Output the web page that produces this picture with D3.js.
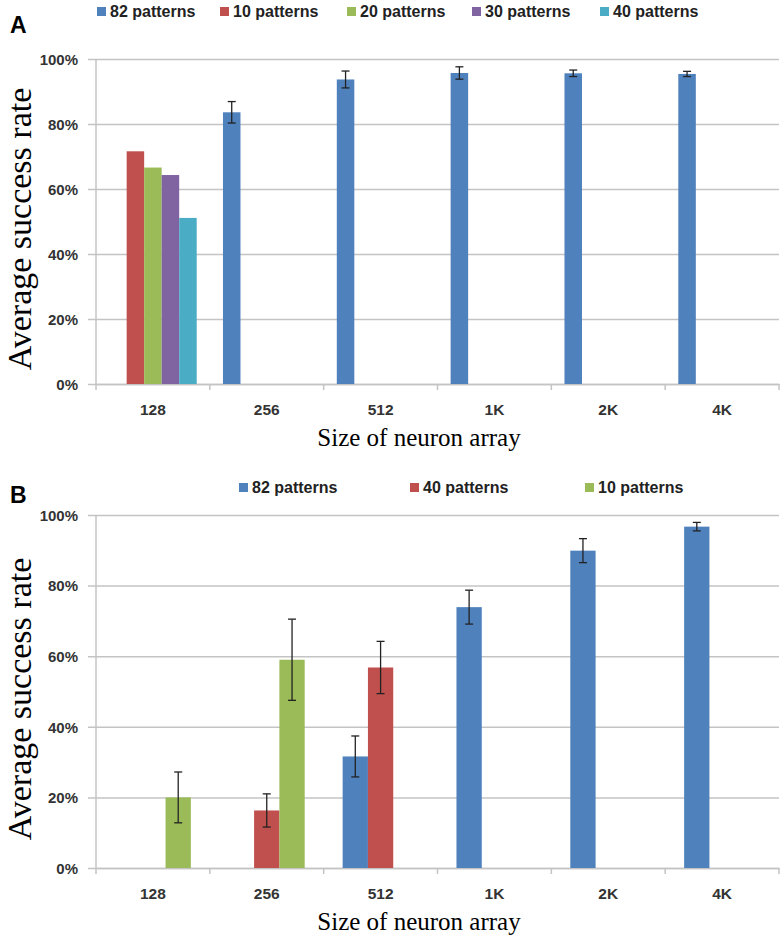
<!DOCTYPE html>
<html>
<head>
<meta charset="utf-8">
<script src="https://cdn.jsdelivr.net/npm/d3@7"></script>
<style>
  body { margin: 0; background: #fff; }
  svg { display: block; }
</style>
</head>
<body>
<svg id="chart" width="784" height="942"></svg>
<script>
// ---- data ----
const categories = ["128", "256", "512", "1K", "2K", "4K"];
const yTicks = [0, 20, 40, 60, 80, 100];

// Panel A
const seriesA = ["82 patterns", "10 patterns", "20 patterns", "30 patterns", "40 patterns"];
const colorsA = ["#4F81BD", "#C0504D", "#9BBB59", "#8064A2", "#4BACC6"];
const a82 = [null, 83.6, 93.7, 95.7, 95.6, 95.4];
const a82err = [null, 3.3, 2.6, 1.9, 1.0, 0.8];
const a10 = [71.6, null, null, null, null, null];
const a20 = [66.6, null, null, null, null, null];
const a30 = [64.3, null, null, null, null, null];
const a40 = [51.1, null, null, null, null, null];
const legendXA = [97, 220, 347, 472, 600];

// Panel B
const seriesB = ["82 patterns", "40 patterns", "10 patterns"];
const colorsB = ["#4F81BD", "#C0504D", "#9BBB59"];
const b82 = [null, null, 31.6, 73.9, 89.9, 96.7];
const b82err = [null, null, 5.8, 4.8, 3.4, 1.2];
const b40 = [null, 16.3, 56.8, null, null, null];
const b40err = [null, 4.7, 7.4, null, null, null];
const b10 = [20.0, 59.0, null, null, null, null];
const b10err = [7.2, 11.5, null, null, null, null];
const legendXB = [239, 410, 585];

const svg = d3.select("#chart");
const sans = "'Liberation Sans', Arial, sans-serif";
const serif = "'Liberation Serif', 'Times New Roman', serif";

function panel(opts) {
  const { top, bottom, letter, letterY, legendY, legendX, names, colors, values, errors, yTitleY, labelY, titleY } = opts;
  const left = 96, right = 779;
  const g = svg.append("g");
  const x = d3.scaleBand().domain(categories).range([left, right]).paddingInner(0).paddingOuter(0);
  const xs = d3.scaleBand().domain(names).range([0, x.bandwidth()]).paddingInner(0).paddingOuter(0.75);
  const y = d3.scaleLinear().domain([0, 100]).range([bottom, top]);

  // gridlines + y ticks
  const yAxis = d3.axisLeft(y).tickValues(yTicks).tickSize(-(right - left)).tickFormat(d => d + "%");
  const ya = g.append("g").attr("transform", `translate(${left},0)`).call(yAxis);
  ya.select(".domain").remove();
  ya.selectAll(".tick line").attr("stroke", "#c4c4c4").attr("stroke-width", 1.5).attr("x1", -8);
  ya.selectAll(".tick text").attr("x", -18).attr("dy", "0.35em")
    .style("font-family", sans).style("font-size", "15px").style("font-weight", "bold").attr("fill", "#333");
  // vertical axis line
  g.append("line").attr("x1", left).attr("x2", left).attr("y1", top).attr("y2", bottom)
    .attr("stroke", "#c4c4c4").attr("stroke-width", 1.5);

  // x axis ticks at band boundaries
  const xa = g.append("g").attr("transform", `translate(0,${bottom})`)
    .call(d3.axisBottom(x).tickSize(0).tickPadding(0));
  xa.select(".domain").attr("stroke", "#c4c4c4").attr("stroke-width", 1.5);
  xa.selectAll(".tick text").attr("y", labelY - bottom).attr("dy", 0)
    .style("font-family", sans).style("font-size", "15.5px").style("font-weight", "bold").attr("fill", "#333");
  const bounds = categories.map(c => x(c)).concat([right]);
  g.selectAll(".xt").data(bounds).enter().append("line")
    .attr("x1", d => d).attr("x2", d => d).attr("y1", bottom).attr("y2", bottom + 6)
    .attr("stroke", "#c4c4c4").attr("stroke-width", 1.5);

  // bars
  names.forEach((name, si) => {
    const vals = values[si];
    const errs = errors[si];
    const data = categories.map((c, i) => ({ c, v: vals[i], e: errs ? errs[i] : null })).filter(d => d.v != null);
    g.selectAll(null).data(data).enter().append("rect")
      .attr("x", d => x(d.c) + xs(name))
      .attr("width", xs.bandwidth())
      .attr("y", d => y(d.v))
      .attr("height", d => y(0) - y(d.v))
      .attr("fill", colors[si]);
    const ed = data.filter(d => d.e != null);
    const cx = d => x(d.c) + xs(name) + xs.bandwidth() / 2;
    const eg = g.selectAll(null).data(ed).enter().append("g").attr("stroke", "#222").attr("stroke-width", 1.3);
    eg.append("line").attr("x1", cx).attr("x2", cx).attr("y1", d => y(d.v + d.e)).attr("y2", d => y(d.v - d.e));
    eg.append("line").attr("x1", d => cx(d) - 4).attr("x2", d => cx(d) + 4).attr("y1", d => y(d.v + d.e)).attr("y2", d => y(d.v + d.e));
    eg.append("line").attr("x1", d => cx(d) - 4).attr("x2", d => cx(d) + 4).attr("y1", d => y(d.v - d.e)).attr("y2", d => y(d.v - d.e));
  });

  // legend
  names.forEach((name, i) => {
    g.append("rect").attr("x", legendX[i]).attr("y", legendY - 10).attr("width", 9).attr("height", 9).attr("fill", colors[i]);
    g.append("text").attr("x", legendX[i] + 13).attr("y", legendY).text(name)
      .style("font-family", sans).style("font-size", "16px").style("font-weight", "bold").attr("fill", "#222");
  });

  // panel letter
  g.append("text").attr("x", 10).attr("y", letterY).text(letter)
    .style("font-family", sans).style("font-size", "23px").style("font-weight", "bold").attr("fill", "#000");

  // axis titles
  g.append("text").attr("transform", `translate(31,${yTitleY}) rotate(-90)`).attr("text-anchor", "middle")
    .text("Average success rate").style("font-family", serif).style("font-size", "34px").attr("fill", "#000");
  g.append("text").attr("x", 419).attr("y", titleY).attr("text-anchor", "middle")
    .text("Size of neuron array").style("font-family", serif).style("font-size", "25px").attr("fill", "#000");
}

panel({
  top: 59, bottom: 384, letter: "A", letterY: 33, legendY: 17, legendX: legendXA,
  names: seriesA, colors: colorsA, values: [a82, a10, a20, a30, a40], errors: [a82err, null, null, null, null],
  yTitleY: 229, labelY: 415, titleY: 446
});
panel({
  top: 515, bottom: 868, letter: "B", letterY: 503, legendY: 493, legendX: legendXB,
  names: seriesB, colors: colorsB, values: [b82, b40, b10], errors: [b82err, b40err, b10err],
  yTitleY: 699, labelY: 899, titleY: 930
});
</script>
</body>
</html>
